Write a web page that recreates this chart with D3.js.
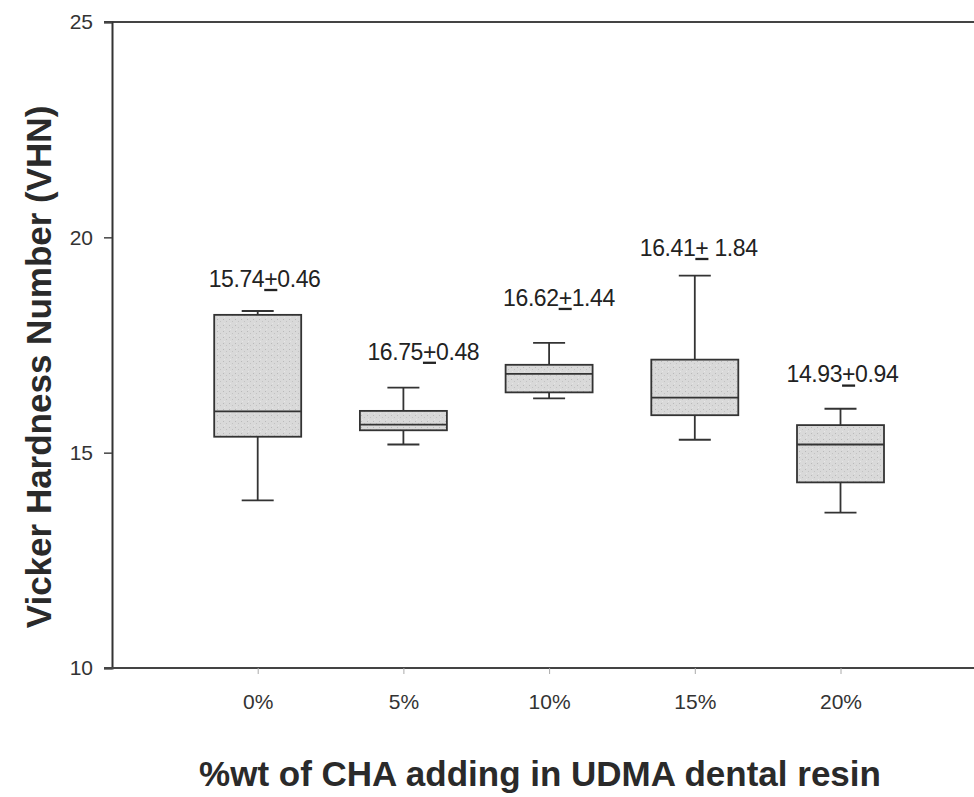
<!DOCTYPE html>
<html>
<head>
<meta charset="utf-8">
<script src="https://cdn.jsdelivr.net/npm/d3@7/dist/d3.min.js"></script>
<style>
  body { margin: 0; background: #fff; }
  svg { display: block; font-family: Arial, "Liberation Sans", sans-serif; }
</style>
</head>
<body>
<div id="vhn-boxplot"></div>
<script>
// data
var groups = ['0%', '5%', '10%', '15%', '20%']
var whiskerLow = [13.89, 15.19, 16.26, 15.30, 13.61]
var boxLow = [15.37, 15.52, 16.40, 15.87, 14.31]
var medians = [15.96, 15.65, 16.83, 16.28, 15.19]
var boxHigh = [18.20, 15.97, 17.04, 17.16, 15.64]
var whiskerHigh = [18.29, 16.51, 17.55, 19.11, 16.02]
var labelMean = ['15.74', '16.75', '16.62', '16.41', '14.93']
var labelSd = ['0.46', '0.48', '1.44', ' 1.84', '0.94']
var labelAt = [18.85, 17.16, 18.41, 19.57, 16.63] // baseline, in VHN units
var yTicks = [10, 15, 20, 25]

// label horizontal offsets from category centre (px)
var labelDx = [-49, -36, -46, -55, -54]

var width = 974
var height = 797
var margin = { top: 22, left: 112, bottom: 129 }
var boxWidth = 87
var capWidth = 32

var svg = d3
  .select('#vhn-boxplot')
  .append('svg')
  .attr('width', width)
  .attr('height', height)

// stippled grey fill
var pattern = svg.append('defs')
  .append('pattern')
  .attr('id', 'stipple')
  .attr('patternUnits', 'userSpaceOnUse')
  .attr('width', 6)
  .attr('height', 6)
pattern.append('rect').attr('width', 6).attr('height', 6).attr('fill', '#d9d9d9')
pattern.append('rect').attr('x', 1).attr('y', 1).attr('width', 1).attr('height', 1).attr('fill', '#b9b9b9')
pattern.append('rect').attr('x', 4).attr('y', 3).attr('width', 1).attr('height', 1).attr('fill', '#c2c2c2')
pattern.append('rect').attr('x', 2).attr('y', 5).attr('width', 1).attr('height', 1).attr('fill', '#e6e6e6')

var y = d3.scaleLinear()
  .domain([10, 25])
  .range([height - margin.bottom, margin.top])

var x = d3.scalePoint()
  .domain(groups)
  .range([margin.left, margin.left + 6 * 145.7])
  .padding(1)

// frame lines: top and bottom run to the edge
svg.append('line')
  .attr('x1', margin.left - 8).attr('x2', width)
  .attr('y1', y(25)).attr('y2', y(25))
  .attr('stroke', '#444').attr('stroke-width', 2)

// y axis
var yAxis = svg.append('g')
  .attr('transform', 'translate(' + margin.left + ',0)')
  .call(d3.axisLeft(y).tickValues(yTicks).tickSize(8).tickPadding(11))
yAxis.select('.domain').attr('stroke', '#333').attr('stroke-width', 2)
yAxis.selectAll('.tick line').attr('stroke', '#444').attr('stroke-width', 1.5)
yAxis.selectAll('.tick text')
  .attr('font-size', '21px')
  .attr('fill', '#333')
  .style('font-family', 'Arial, "Liberation Sans", sans-serif')

// x axis
var xAxis = svg.append('g')
  .attr('transform', 'translate(0,' + y(10) + ')')
  .call(d3.axisBottom(x).tickSize(6).tickPadding(20).tickSizeOuter(0))
xAxis.select('.domain').attr('stroke', '#444').attr('stroke-width', 2)
  .attr('d', 'M' + (margin.left - 8) + ',0H' + width)
xAxis.selectAll('.tick line').attr('stroke', '#aaa').attr('stroke-width', 1)
xAxis.selectAll('.tick text')
  .attr('font-size', '21px')
  .attr('fill', '#333')
  .style('font-family', 'Arial, "Liberation Sans", sans-serif')

// box plots
var stats = groups.map(function (g, i) {
  return { g: g, lo: whiskerLow[i], q1: boxLow[i], med: medians[i], q3: boxHigh[i], hi: whiskerHigh[i] }
})

var boxes = svg.selectAll('.box')
  .data(stats)
  .enter()
  .append('g')
  .attr('class', 'box')
  .attr('stroke', '#333')
  .attr('stroke-width', 1.8)

boxes.append('line')
  .attr('x1', d => x(d.g)).attr('x2', d => x(d.g))
  .attr('y1', d => y(d.hi)).attr('y2', d => y(d.q3))
boxes.append('line')
  .attr('x1', d => x(d.g)).attr('x2', d => x(d.g))
  .attr('y1', d => y(d.q1)).attr('y2', d => y(d.lo))
boxes.append('line')
  .attr('x1', d => x(d.g) - capWidth / 2).attr('x2', d => x(d.g) + capWidth / 2)
  .attr('y1', d => y(d.hi)).attr('y2', d => y(d.hi))
boxes.append('line')
  .attr('x1', d => x(d.g) - capWidth / 2).attr('x2', d => x(d.g) + capWidth / 2)
  .attr('y1', d => y(d.lo)).attr('y2', d => y(d.lo))
boxes.append('rect')
  .attr('x', d => x(d.g) - boxWidth / 2)
  .attr('width', boxWidth)
  .attr('y', d => y(d.q3))
  .attr('height', d => y(d.q1) - y(d.q3))
  .attr('fill', 'url(#stipple)')
boxes.append('line')
  .attr('x1', d => x(d.g) - boxWidth / 2).attr('x2', d => x(d.g) + boxWidth / 2)
  .attr('y1', d => y(d.med)).attr('y2', d => y(d.med))

// mean +- sd labels
groups.forEach(function (g, i) {
  var t = svg.append('text')
    .attr('x', x(g) + labelDx[i])
    .attr('y', y(labelAt[i]))
    .attr('font-size', '23px')
    .attr('fill', '#222')
    .attr('letter-spacing', '-0.4px')
    .style('white-space', 'pre')
  t.append('tspan').text(labelMean[i])
  t.append('tspan').attr('text-decoration', 'underline').text('+')
  t.append('tspan').text(labelSd[i])
})

// axis titles
svg.append('text')
  .attr('transform', 'translate(51,' + 367 + ') rotate(-90)')
  .attr('text-anchor', 'middle')
  .attr('font-size', '35px')
  .attr('font-weight', 'bold')
  .attr('fill', '#2a2a2a')
  .text('Vicker Hardness Number (VHN)')

svg.append('text')
  .attr('x', 540)
  .attr('y', 786)
  .attr('text-anchor', 'middle')
  .attr('font-size', '35px')
  .attr('font-weight', 'bold')
  .attr('fill', '#2a2a2a')
  .text('%wt of CHA adding in UDMA dental resin')
</script>
</body>
</html>
